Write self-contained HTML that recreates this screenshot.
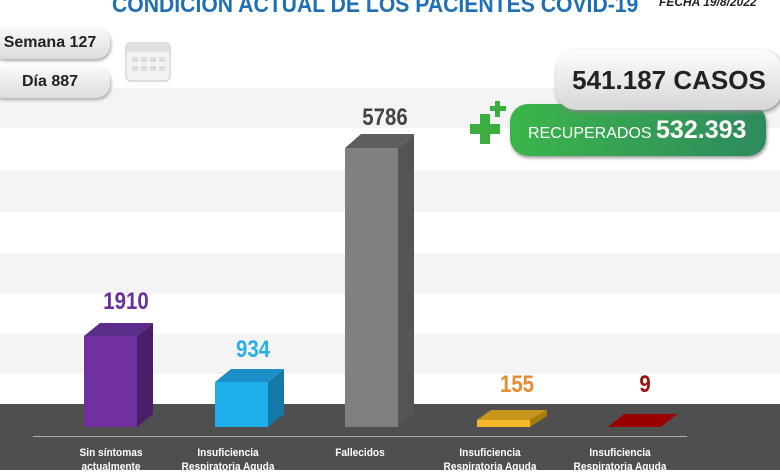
<!DOCTYPE html><html><head><meta charset="utf-8"><style>
body{margin:0;width:780px;height:470px;overflow:hidden;background:#fff;font-family:"Liberation Sans",sans-serif;position:relative}
.a{position:absolute}
.pill{position:absolute;left:-10px;width:120px;height:32px;border-radius:14px;background:linear-gradient(#fafafa,#ddd);box-shadow:1px 2px 3px #aaa;font-weight:bold;font-size:16px;text-align:center;line-height:32px;color:#222}
.num{position:absolute;font-weight:bold;font-size:24px;text-align:center;width:80px;transform:scaleX(.85)}
.lbl{position:absolute;color:#fff;font-size:11px;text-align:center;width:120px;line-height:14px;font-weight:bold;transform:scaleX(.92)}
</style></head><body>
<div class="a" style="left:0;top:88px;width:780px;height:40px;background:#f4f4f4"></div>
<div class="a" style="left:0;top:170px;width:780px;height:42px;background:#f4f4f4"></div>
<div class="a" style="left:0;top:253px;width:780px;height:41px;background:#f4f4f4"></div>
<div class="a" style="left:0;top:334px;width:780px;height:40px;background:#f4f4f4"></div>
<div class="a" style="left:0;top:404px;width:780px;height:66px;background:#4f4f4f"></div>
<div class="a" style="left:33px;top:436px;width:654px;height:1px;background:#aaa"></div>
<div class="a" style="left:112px;top:-9px;font-size:23px;font-weight:bold;color:#1f6fb5;white-space:nowrap;transform:scaleX(.92);transform-origin:left">CONDICION ACTUAL DE LOS PACIENTES COVID-19</div>
<div class="a" style="left:659px;top:-5px;font-size:12px;font-weight:bold;font-style:italic;color:#222">FECHA 19/8/2022</div>
<div class="pill" style="top:27px">Semana 127</div>
<div class="pill" style="top:66px">Día 887</div>
<svg class="a" style="left:124px;top:37px" width="48" height="46"><rect x="2" y="6" width="44" height="38" rx="5" fill="#f2f2f2" stroke="#ddd" stroke-width="2"/><rect x="2" y="6" width="44" height="9" fill="#e0e0e0"/><g fill="#ddd"><rect x="8" y="20" width="6" height="5"/><rect x="17" y="20" width="6" height="5"/><rect x="26" y="20" width="6" height="5"/><rect x="35" y="20" width="6" height="5"/><rect x="8" y="29" width="6" height="5"/><rect x="17" y="29" width="6" height="5"/><rect x="26" y="29" width="6" height="5"/><rect x="35" y="29" width="6" height="5"/></g></svg>
<div class="a" style="left:510px;top:104px;width:256px;height:52px;border-radius:18px;background:linear-gradient(90deg,#3bb54a,#2e8a5e);box-shadow:1px 2px 3px #999"></div>
<div class="a" style="left:528px;top:116px;color:#fff;font-size:16px;white-space:nowrap"><span>RECUPERADOS</span> <b style="font-size:25px">532.393</b></div>
<div class="a" style="left:556px;top:50px;width:226px;height:60px;border-radius:20px;background:linear-gradient(#fdfdfd,#d6d6d6);box-shadow:1px 2px 4px #888;font-weight:bold;font-size:26px;line-height:60px;text-align:center;color:#222">541.187 CASOS</div>
<div class="a" style="left:470px;top:124px;width:30px;height:10px;background:#3cae3f"></div>
<div class="a" style="left:480px;top:114px;width:10px;height:30px;background:#3cae3f"></div>
<div class="a" style="left:490px;top:106px;width:16px;height:5px;background:#3cae3f"></div>
<div class="a" style="left:495px;top:101px;width:5px;height:16px;background:#3cae3f"></div>
<svg class="a" style="left:0;top:0" width="780" height="470">
<g><polygon points="84,336 100,323 153,323 137,336" fill="#5a2d8a"/><rect x="84" y="336" width="53" height="91" fill="#7030a0"/><polygon points="137,336 153,323 153,414 137,427" fill="#4a1f6a"/></g>
<g><polygon points="215,382 231,369 284,369 268,382" fill="#1a8fc8"/><rect x="215" y="382" width="53" height="45" fill="#1eb0eb"/><polygon points="268,382 284,369 284,414 268,427" fill="#1478a8"/></g>
<g><polygon points="345,148 361,134 414,134 398,148" fill="#5e5e5e"/><rect x="345" y="148" width="53" height="279" fill="#808080"/><polygon points="398,148 414,134 414,414 398,427" fill="#555"/></g>
<g><polygon points="477,420 491,410 547,410 530,420" fill="#c9961c"/><rect x="477" y="420" width="53" height="7" fill="#f5b82b"/><polygon points="530,420 547,410 547,416 530,427" fill="#a77d10"/></g>
<polygon points="608,427 624,414 677,414 661,427" fill="#9b0000"/>
</svg>
<div class="num" style="left:86px;top:288px;color:#6a2f9a">1910</div>
<div class="num" style="left:213px;top:336px;color:#29aee6">934</div>
<div class="num" style="left:345px;top:104px;color:#444">5786</div>
<div class="num" style="left:477px;top:371px;color:#e88a2e">155</div>
<div class="num" style="left:605px;top:371px;color:#a01010">9</div>
<div class="lbl" style="left:51px;top:446px">Sin síntomas<br>actualmente</div>
<div class="lbl" style="left:168px;top:446px">Insuficiencia<br>Respiratoria Aguda</div>
<div class="lbl" style="left:300px;top:446px">Fallecidos</div>
<div class="lbl" style="left:430px;top:446px">Insuficiencia<br>Respiratoria Aguda</div>
<div class="lbl" style="left:560px;top:446px">Insuficiencia<br>Respiratoria Aguda</div>
</body></html>
